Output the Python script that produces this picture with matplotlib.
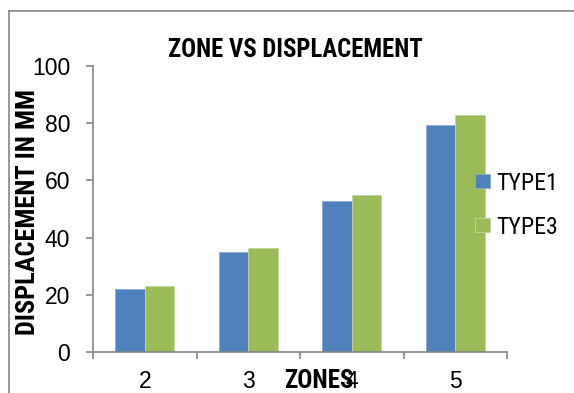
import matplotlib
matplotlib.use("Agg")
import matplotlib.pyplot as plt
from matplotlib import font_manager
from matplotlib.lines import Line2D
from matplotlib.ticker import FixedLocator
import numpy as np

zones = ["2", "3", "4", "5"]
type1 = [22, 35, 52.7, 79.3]
type3 = [23, 36.5, 55, 82.8]
series_labels = ["TYPE1", "TYPE3"]

BLUE = "#4F81BD"
GREEN = "#9BBB59"
AXIS_GREY = "#868686"

# narrow face for the labels, falling back to a scaled-down regular face
installed = {f.name for f in font_manager.fontManager.ttflist}
NARROW, narrow_scale = "Liberation Sans", None
for name in ["Liberation Sans Narrow", "Roboto Condensed"]:
    if name in installed:
        NARROW, narrow_scale = name, 1.0
        break
REGULAR = "Liberation Sans"


def size(narrow_pt, regular_pt):
    return narrow_pt if narrow_scale else regular_pt


W, H = 574, 393
fig = plt.figure(figsize=(W / 100, H / 100), dpi=100)
fig.patch.set_facecolor("white")

# plot area in pixel terms
left, right, top, bottom = 93, 507, 66, 352
ax = fig.add_axes([left / W, 1 - bottom / H, (right - left) / W, (bottom - top) / H])

x = np.arange(len(zones))
width = 0.285
ax.bar(x - width / 2, type1, width, color=BLUE, edgecolor="#8EABD3", linewidth=0.6, label=series_labels[0])
ax.bar(x + width / 2, type3, width, color=GREEN, edgecolor="#C3D69B", linewidth=0.6, label=series_labels[1])

ax.set_xlim(-0.5, len(zones) - 0.5)
ax.set_ylim(0, 100)
ax.set_yticks(np.arange(0, 101, 20))
ax.set_xticks(x)
ax.set_xticklabels(zones)
ax.xaxis.set_minor_locator(FixedLocator(np.arange(-0.5, len(zones), 1.0)))

for s in ["top", "right"]:
    ax.spines[s].set_visible(False)
for s in ["left", "bottom"]:
    ax.spines[s].set_color(AXIS_GREY)
    ax.spines[s].set_linewidth(1.2)

ax.tick_params(axis="y", length=5, width=1.2, color=AXIS_GREY, pad=11.5, labelsize=16.5)
ax.tick_params(axis="x", which="major", length=0, pad=13, labelsize=16.5)
ax.tick_params(axis="x", which="minor", length=5, width=1.2, color=AXIS_GREY)
for lab in ax.get_xticklabels() + ax.get_yticklabels():
    lab.set_fontfamily(REGULAR)

fs_leg = size(17.2, 13.7)
px_per_em = fs_leg * 100 / 72
leg = ax.legend(loc="center left", bbox_to_anchor=(475 / W, 1 - 205 / H),
                bbox_transform=fig.transFigure, frameon=False,
                prop={"family": NARROW, "size": fs_leg},
                borderpad=0, borderaxespad=0, handlelength=15 / px_per_em,
                handleheight=13 / px_per_em, handletextpad=6 / px_per_em,
                labelspacing=21 / px_per_em)

fig.text(295 / W, 1 - 57 / H, "ZONE VS DISPLACEMENT", ha="center", va="baseline",
         fontfamily=NARROW, fontweight="bold", fontsize=size(17.8, 14.8))
fig.text(28 / W, 1 - 212 / H, "DISPLACEMENT IN MM", ha="center", va="center", rotation=90,
         fontfamily=NARROW, fontweight="bold", fontsize=size(19.0, 15.5))
fig.text(319 / W, 1 - 388 / H, "ZONES", ha="center", va="baseline",
         fontfamily=NARROW, fontweight="bold", fontsize=size(18.0, 14.6))

# outer chart frame (only the top and left edges fall inside the image)
fig.add_artist(Line2D([9 / W, 1], [1 - 11 / H, 1 - 11 / H], transform=fig.transFigure,
                      color=AXIS_GREY, linewidth=1.2))
fig.add_artist(Line2D([9 / W, 9 / W], [0, 1 - 11 / H], transform=fig.transFigure,
                      color=AXIS_GREY, linewidth=1.2))

fig.savefig("out.png", dpi=100)
